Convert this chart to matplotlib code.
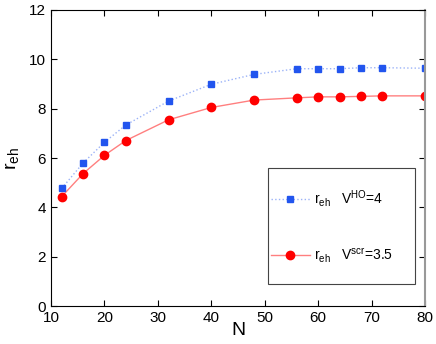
import numpy as np
import matplotlib.pyplot as plt
from matplotlib.patches import Rectangle
from matplotlib.lines import Line2D

plt.rcParams['font.family'] = ['Liberation Sans', 'DejaVu Sans']
plt.rcParams['mathtext.fontset'] = 'custom'
plt.rcParams['mathtext.rm'] = 'Liberation Sans'

# data
N = [12, 16, 20, 24, 32, 40, 48, 56, 60, 64, 68, 72, 80]
r_ho = [4.77, 5.80, 6.64, 7.34, 8.31, 8.99, 9.39, 9.62, 9.62, 9.62, 9.66, 9.66, 9.64]
r_scr = [4.44, 5.37, 6.11, 6.71, 7.55, 8.05, 8.35, 8.44, 8.48, 8.48, 8.50, 8.52, 8.52]

fig = plt.figure(figsize=(4.36, 3.44), dpi=100)
ax = fig.add_axes([0.117, 0.110, 0.858, 0.861])

# lines a bit faded, markers solid
ax.plot(N, r_ho, ':', color='#2255ee', alpha=0.45, lw=1)
ax.plot(N, r_scr, '-', color='red', alpha=0.5, lw=1)
ax.plot(N, r_ho, 's', color='#2255ee', ms=4.5, ls='none')
ax.plot(N, r_scr, 'o', color='red', ms=6, ls='none')

# legend handles: faded line + solid marker
h1 = (Line2D([], [], ls=':', color='#2255ee', alpha=0.45, lw=1),
      Line2D([], [], marker='s', color='#2255ee', ms=4.5, ls='none'))
h2 = (Line2D([], [], ls='-', color='red', alpha=0.5, lw=1),
      Line2D([], [], marker='o', color='red', ms=6, ls='none'))
leg = ax.legend([h1, h2],
                [r'r$_{\rm eh}$   V$^{\rm HO}$=4', r'r$_{\rm eh}$   V$^{\rm scr}$=3.5'],
                loc='center left', bbox_to_anchor=(0.588, 0.27),
                fontsize=10, frameon=False, borderpad=0, borderaxespad=0,
                labelspacing=2.7, handlelength=2.8, handletextpad=0.3)

# matlab-style legend box
ax.add_patch(Rectangle((0.580, 0.074), 0.393, 0.392, transform=ax.transAxes,
                       fill=False, edgecolor='#444444', lw=0.8, zorder=5))

ax.set_xlim(10, 80)
ax.set_ylim(0, 12)
ax.set_xticks(np.arange(10, 81, 10))
ax.set_yticks(np.arange(0, 13, 2))
ax.tick_params(direction='in', top=True, right=True, labelsize=11, length=4)
ax.spines['right'].set_color('#999999')
ax.spines['right'].set_linewidth(1.5)

ax.set_xlabel('N', fontsize=14, labelpad=-2)
ax.set_ylabel(r'r$_{\rm eh}$', fontsize=14, labelpad=5)

fig.savefig('out.png', dpi=100)
